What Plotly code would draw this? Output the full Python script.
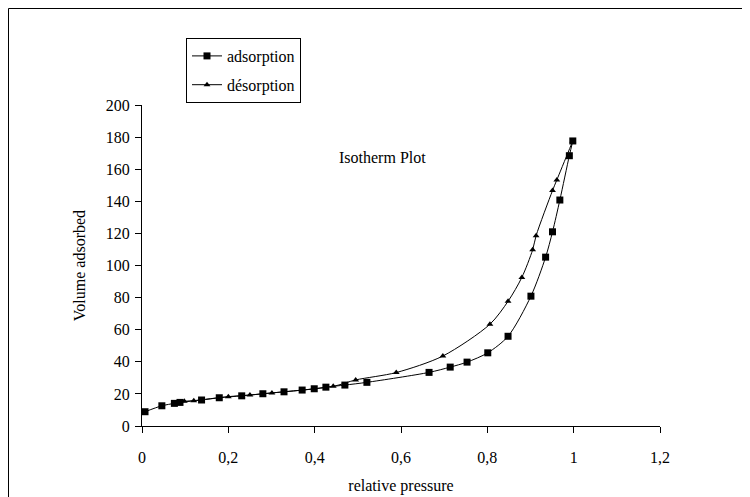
import plotly.graph_objects as go

# Adsorption branch (squares)
ads_x = [0.007, 0.046, 0.075, 0.088, 0.138, 0.179, 0.231, 0.280, 0.329, 0.371,
         0.399, 0.426, 0.470, 0.521, 0.665, 0.714, 0.753, 0.801, 0.848, 0.901,
         0.935, 0.951, 0.968, 0.990, 0.998]
ads_y = [8.9, 12.6, 14.1, 14.7, 16.2, 17.6, 18.8, 20.1, 21.3, 22.4,
         23.2, 24.2, 25.5, 27.2, 33.4, 36.7, 39.8, 45.6, 55.9, 80.9,
         105.2, 121.0, 140.8, 168.4, 177.6]

# Desorption branch (triangles)
des_x = [0.998, 0.961, 0.951, 0.913, 0.905, 0.880, 0.848, 0.806, 0.697, 0.589,
         0.495, 0.443, 0.301, 0.250, 0.200, 0.120, 0.098]
des_y = [177.6, 153.3, 146.7, 118.6, 109.8, 92.6, 77.7, 63.4, 43.6, 33.3,
         28.7, 24.7, 20.6, 19.3, 18.3, 15.8, 15.4]

x_ticks = [0, 0.2, 0.4, 0.6, 0.8, 1, 1.2]
x_tick_labels = ["0", "0,2", "0,4", "0,6", "0,8", "1", "1,2"]
y_ticks = [0, 20, 40, 60, 80, 100, 120, 140, 160, 180, 200]

FONT = "Liberation Serif, Times New Roman, serif"
FS = 16

fig = go.Figure()
fig.add_trace(go.Scatter(
    x=ads_x, y=ads_y, name="adsorption", mode="lines+markers",
    line=dict(color="black", width=1, shape="spline", smoothing=0.8),
    marker=dict(symbol="square", size=7, color="black"),
    legendgroup="a",
))
fig.add_trace(go.Scatter(
    x=des_x, y=des_y, name="désorption", mode="lines+markers",
    line=dict(color="black", width=1, shape="spline", smoothing=0.8),
    marker=dict(symbol="triangle-up", size=6, color="black"),
    legendgroup="b",
))

OFF = 8  # page offset of the figure inside the browser window
W, H = 750, 497
# plot area in screen pixels: x 142..660, y 105..426
L = 142 - OFF
T = 105 - OFF
pw = 660 - 142
ph = 426 - 105
R = W - L - pw
B = H - T - ph


def px_x(p):
    return (p - OFF - L) / pw


def px_y(p):
    return (T + ph - (p - OFF)) / ph


fig.update_layout(
    width=W, height=H,
    margin=dict(l=L, r=R, t=T, b=B, pad=0),
    paper_bgcolor="white", plot_bgcolor="white",
    font=dict(family=FONT, size=FS, color="black"),
    showlegend=True,
    legend=dict(
        x=px_x(186), y=px_y(38), xanchor="left", yanchor="top",
        bordercolor="black", borderwidth=1, bgcolor="white",
        font=dict(family=FONT, size=FS, color="black"),
        tracegroupgap=5, itemwidth=30,
    ),
    xaxis=dict(
        range=[0, 1.2], tickvals=x_ticks, ticktext=x_tick_labels,
        showgrid=False, zeroline=False, showline=True, linecolor="black",
        linewidth=1, ticks="outside", ticklen=6, tickcolor="black",
        ticklabelstandoff=11,
        tickfont=dict(family=FONT, size=FS),
        title=dict(text="relative pressure", font=dict(family=FONT, size=FS), standoff=14),
    ),
    yaxis=dict(
        range=[0, 200], tickvals=y_ticks,
        showgrid=False, zeroline=False, showline=True, linecolor="black",
        linewidth=1, ticks="outside", ticklen=6, tickcolor="black",
        ticklabelstandoff=2,
        tickfont=dict(family=FONT, size=FS),
        title=dict(text="Volume adsorbed", font=dict(family=FONT, size=FS), standoff=16),
    ),
    shapes=[dict(
        type="rect", xref="paper", yref="paper",
        x0=px_x(OFF + 0.5), y0=px_y(540), x1=px_x(800), y1=px_y(OFF + 0.5),
        line=dict(color="black", width=1), fillcolor="rgba(0,0,0,0)", layer="below",
    )],
    annotations=[dict(
        text="Isotherm Plot", xref="paper", yref="paper",
        x=px_x(382), y=px_y(157), xanchor="center", yanchor="middle",
        showarrow=False, font=dict(family=FONT, size=FS, color="black"),
    )],
)

fig.write_html("out.html")
